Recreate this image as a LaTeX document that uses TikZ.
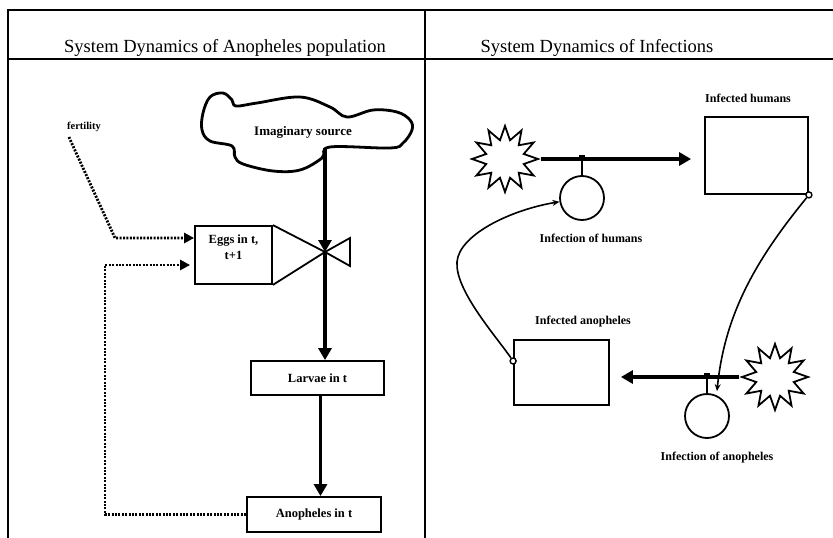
\documentclass[tikz,border=0pt]{standalone}
\usepackage{fontspec}
\setmainfont{Liberation Serif}
\usetikzlibrary{arrows.meta,shapes.geometric}

\begin{document}
\begin{tikzpicture}[x=1pt,y=-1pt,
stock/.style={draw,line width=1.8pt,inner sep=0pt,font=\fontsize{12.5}{13}\selectfont\bfseries},
lbl/.style={inner sep=0pt,font=\fontsize{12}{13}\selectfont\bfseries},
ttl/.style={inner sep=0pt,font=\fontsize{18.5}{20}\selectfont},
flow/.style={line width=3.6pt,-{Triangle[length=12pt,width=13pt]}},
info/.style={line width=2.8pt,dash pattern=on 2pt off 1.4pt,-{Triangle[length=10pt,width=10pt]}},
link/.style={line width=1.6pt,-{Stealth[length=7pt,width=6pt]}},
conv/.style={circle,draw,line width=1.8pt,minimum size=44pt,inner sep=0pt},
burst/.style={star,star points=12,star point ratio=1.7,draw,line width=1.8pt,minimum size=66pt,inner sep=0pt},
knob/.style={circle,draw,fill=white,line width=1.4pt,minimum size=6pt,inner sep=0pt}]
\def\fw{1.8pt}
\useasboundingbox (0,0) rectangle (833,538);

\draw[line width=\fw] (8,538) -- (8,10) -- (833,10);
\draw[line width=\fw] (8,59) -- (833,59);
\draw[line width=\fw] (425,10) -- (425,538);
\node[ttl] (ttlpop) at (225,48) {System Dynamics of Anopheles population};
\node[ttl] (ttlinf) at (597,48) {System Dynamics of Infections};

\draw[line width=2.8pt] plot[smooth cycle,tension=0.6] coordinates {(210,97) (223,93) (232,100) (236,106) (257,103) (300,97) (330,107) (347,117) (373,110) (397,112) (410,120) (412,130) (403,143) (390,148) (330,147) (322,158) (300,170) (273,171) (243,164) (235,157) (232,146) (210,141) (202,130) (203,113)};
\node[lbl,font=\fontsize{13}{14}\selectfont\bfseries] (src) at (303,132) {Imaginary source};
\coordinate (srcout) at (325,148);

\node[stock,minimum width=77pt,minimum height=58pt,
  label={[stock,draw=none,align=center,yshift=8pt]center:Eggs in t,\\[3pt]t+1}] (eggs) at (233.5,255) {};
\coordinate (valve) at (325,252);
\draw[line width=1.8pt] (eggs.north east) -- (valve) -- (350,238) -- (350,266) -- (valve) -- (eggs.south east);
\node[stock,minimum width=133pt,minimum height=34pt] (larv) at (317.5,378) {Larvae in t};
\node[stock,minimum width=134pt,minimum height=35pt] (anoph) at (314,514.5) {Anopheles in t};

\draw[flow] (srcout) -- (valve);
\draw[flow] (valve) -- (valve |- larv.north);
\draw[flow] ([xshift=3pt]larv.south) -- ([xshift=3pt]larv.south |- anoph.north);

\node[lbl,font=\fontsize{10.5}{12}\selectfont\bfseries] (fert) at (84,127) {fertility};
\draw[info] ([xshift=2pt,yshift=-5pt]fert.south west) -- (115,238) -- ([yshift=17pt]eggs.west);
\draw[info] (anoph.west) -- (105,514.5) -- (105,265) -- ([xshift=-4pt,yshift=-10pt]eggs.west);

\node[lbl,anchor=west] (ihumlbl) at (705,98) {Infected humans};
\node[stock,minimum width=103pt,minimum height=77pt] (ihum) at (756.5,155.5) {};
\node[lbl] (ianolbl) at (583,322) {Infected anopheles};
\node[stock,minimum width=95pt,minimum height=65pt] (iano) at (561.5,372.5) {};
\node[burst] (sky1) at (505,159) {};
\node[burst] (sky2) at (775,377) {};
\node[conv] (infh) at (582,198) {};
\node[conv] (infa) at (707,416) {};
\node[lbl] (infhlbl) at (591,238) {Infection of humans};
\node[lbl] (infalbl) at (717,458) {Infection of anopheles};

\draw[flow] (sky1) -- ([xshift=-13pt]ihum.west |- sky1);
\draw[flow] (sky2) -- ([xshift=11pt]iano.east |- sky2);
\foreach \c in {infh,infa}
{
	\draw[line width=1.8pt] (\c.north) -- ++(0,-17);
	\fill ([xshift=-3pt]\c.north) ++(0,-15) rectangle ++(6,-5);
}

\node[knob] (d1) at ([yshift=11.5pt]iano.west) {};
\draw[link] (d1) .. controls (495,335) and (455,290) .. (457,262) .. controls (459,235) and (510,210) .. (infh);
\node[knob] (d2) at (ihum.south east) {};
\coordinate (infatop) at ([xshift=10pt,yshift=2pt]infa.north);
\draw[link] (d2) .. controls (760,255) and (725,310) .. (infatop);
\end{tikzpicture}
\end{document}
